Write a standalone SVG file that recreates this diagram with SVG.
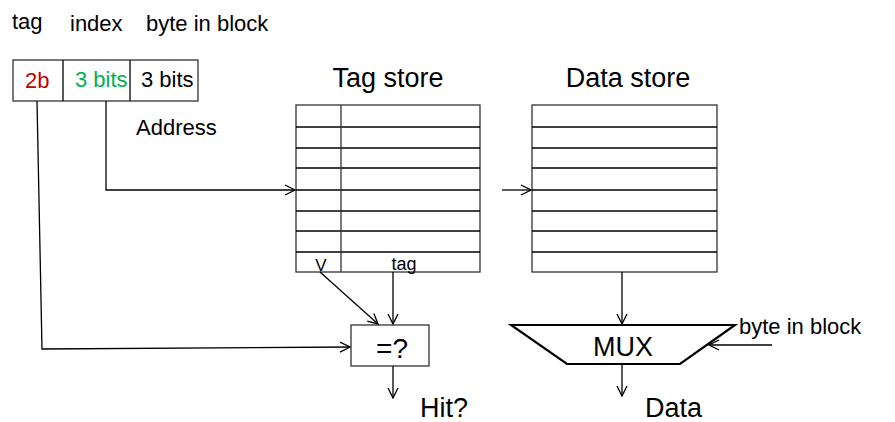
<svg xmlns="http://www.w3.org/2000/svg" width="895" height="422" viewBox="0 0 895 422">
<style>
text{font-family:"Liberation Sans",Arial,sans-serif;fill:#000}
.t22{font-size:22px}
.t27{font-size:27px}
.box{fill:#fff;stroke:#333;stroke-width:1.3}
.row{stroke:#000;stroke-width:1.5}
.ln{fill:none;stroke:#000;stroke-width:1.3}
</style>
<defs>
<marker id="ah" viewBox="0 0 12 12" refX="11" refY="6" markerWidth="12" markerHeight="12" markerUnits="userSpaceOnUse" orient="auto">
<path d="M1,1 L11,6 L1,11" fill="none" stroke="#000" stroke-width="1.3"/>
</marker>
</defs>
<g id="labels-top">
<text class="t22" x="12" y="29">tag</text>
<text class="t22" x="70" y="31">index</text>
<text class="t22" x="146" y="31">byte in block</text>
</g>
<g id="address">
<rect class="box" x="13" y="60" width="185" height="41"/>
<line class="ln" x1="63" y1="60" x2="63" y2="101"/>
<line class="ln" x1="130" y1="60" x2="130" y2="101"/>
<text class="t22" x="25" y="88" style="fill:#c00000">2b</text>
<text class="t22" x="75" y="87" style="fill:#00b050">3 bits</text>
<text class="t22" x="141" y="87">3 bits</text>
<text class="t22" x="136" y="135">Address</text>
</g>
<g id="tag-store">
<text class="t27" x="388" y="87" text-anchor="middle">Tag store</text>
<rect class="box" x="296" y="105" width="184" height="167"/>
<g class="row">
<line x1="296" y1="127" x2="480" y2="127"/>
<line x1="296" y1="148" x2="480" y2="148"/>
<line x1="296" y1="168" x2="480" y2="168"/>
<line x1="296" y1="190" x2="480" y2="190"/>
<line x1="296" y1="211" x2="480" y2="211"/>
<line x1="296" y1="231" x2="480" y2="231"/>
<line x1="296" y1="252" x2="480" y2="252"/>
</g>
<line x1="341" y1="105" x2="341" y2="272" stroke="#333" stroke-width="1.3"/>
<text x="321" y="271" font-size="17" text-anchor="middle">V</text>
<text x="404" y="270" font-size="18" text-anchor="middle">tag</text>
</g>
<g id="data-store">
<text class="t27" x="628" y="87" text-anchor="middle">Data store</text>
<rect class="box" x="532" y="105" width="185" height="167"/>
<g class="row">
<line x1="532" y1="127" x2="717" y2="127"/>
<line x1="532" y1="148" x2="717" y2="148"/>
<line x1="532" y1="168" x2="717" y2="168"/>
<line x1="532" y1="190" x2="717" y2="190"/>
<line x1="532" y1="211" x2="717" y2="211"/>
<line x1="532" y1="231" x2="717" y2="231"/>
<line x1="532" y1="252" x2="717" y2="252"/>
</g>
</g>
<g id="compare">
<rect class="box" x="351" y="325" width="78" height="41"/>
<text x="392" y="358" font-size="28" text-anchor="middle">=?</text>
<text class="t27" x="420" y="417">Hit?</text>
</g>
<g id="mux">
<path d="M511,325 L735,325 L680,364 L567,364 Z" fill="#fff" stroke="#000" stroke-width="2.2"/>
<text x="623" y="356" font-size="27" text-anchor="middle">MUX</text>
<text class="t27" x="645" y="417">Data</text>
<text class="t22" x="739" y="334">byte in block</text>
</g>
<g id="connectors">
<polyline class="ln" points="106,101 106,190 295,190" marker-end="url(#ah)"/>
<line class="ln" x1="502" y1="190" x2="531" y2="190" marker-end="url(#ah)"/>
<polyline class="ln" points="37,101 42,349 350,347" marker-end="url(#ah)"/>
<line class="ln" x1="320" y1="272" x2="378" y2="324" marker-end="url(#ah)"/>
<line class="ln" x1="393" y1="272" x2="393" y2="324" marker-end="url(#ah)"/>
<line class="ln" x1="393" y1="366" x2="393" y2="398" marker-end="url(#ah)"/>
<line class="ln" x1="622" y1="272" x2="622" y2="324" marker-end="url(#ah)"/>
<line class="ln" x1="622" y1="365" x2="622" y2="396" marker-end="url(#ah)"/>
<line class="ln" x1="772" y1="345" x2="709" y2="345" marker-end="url(#ah)"/>
</g>
</svg>
